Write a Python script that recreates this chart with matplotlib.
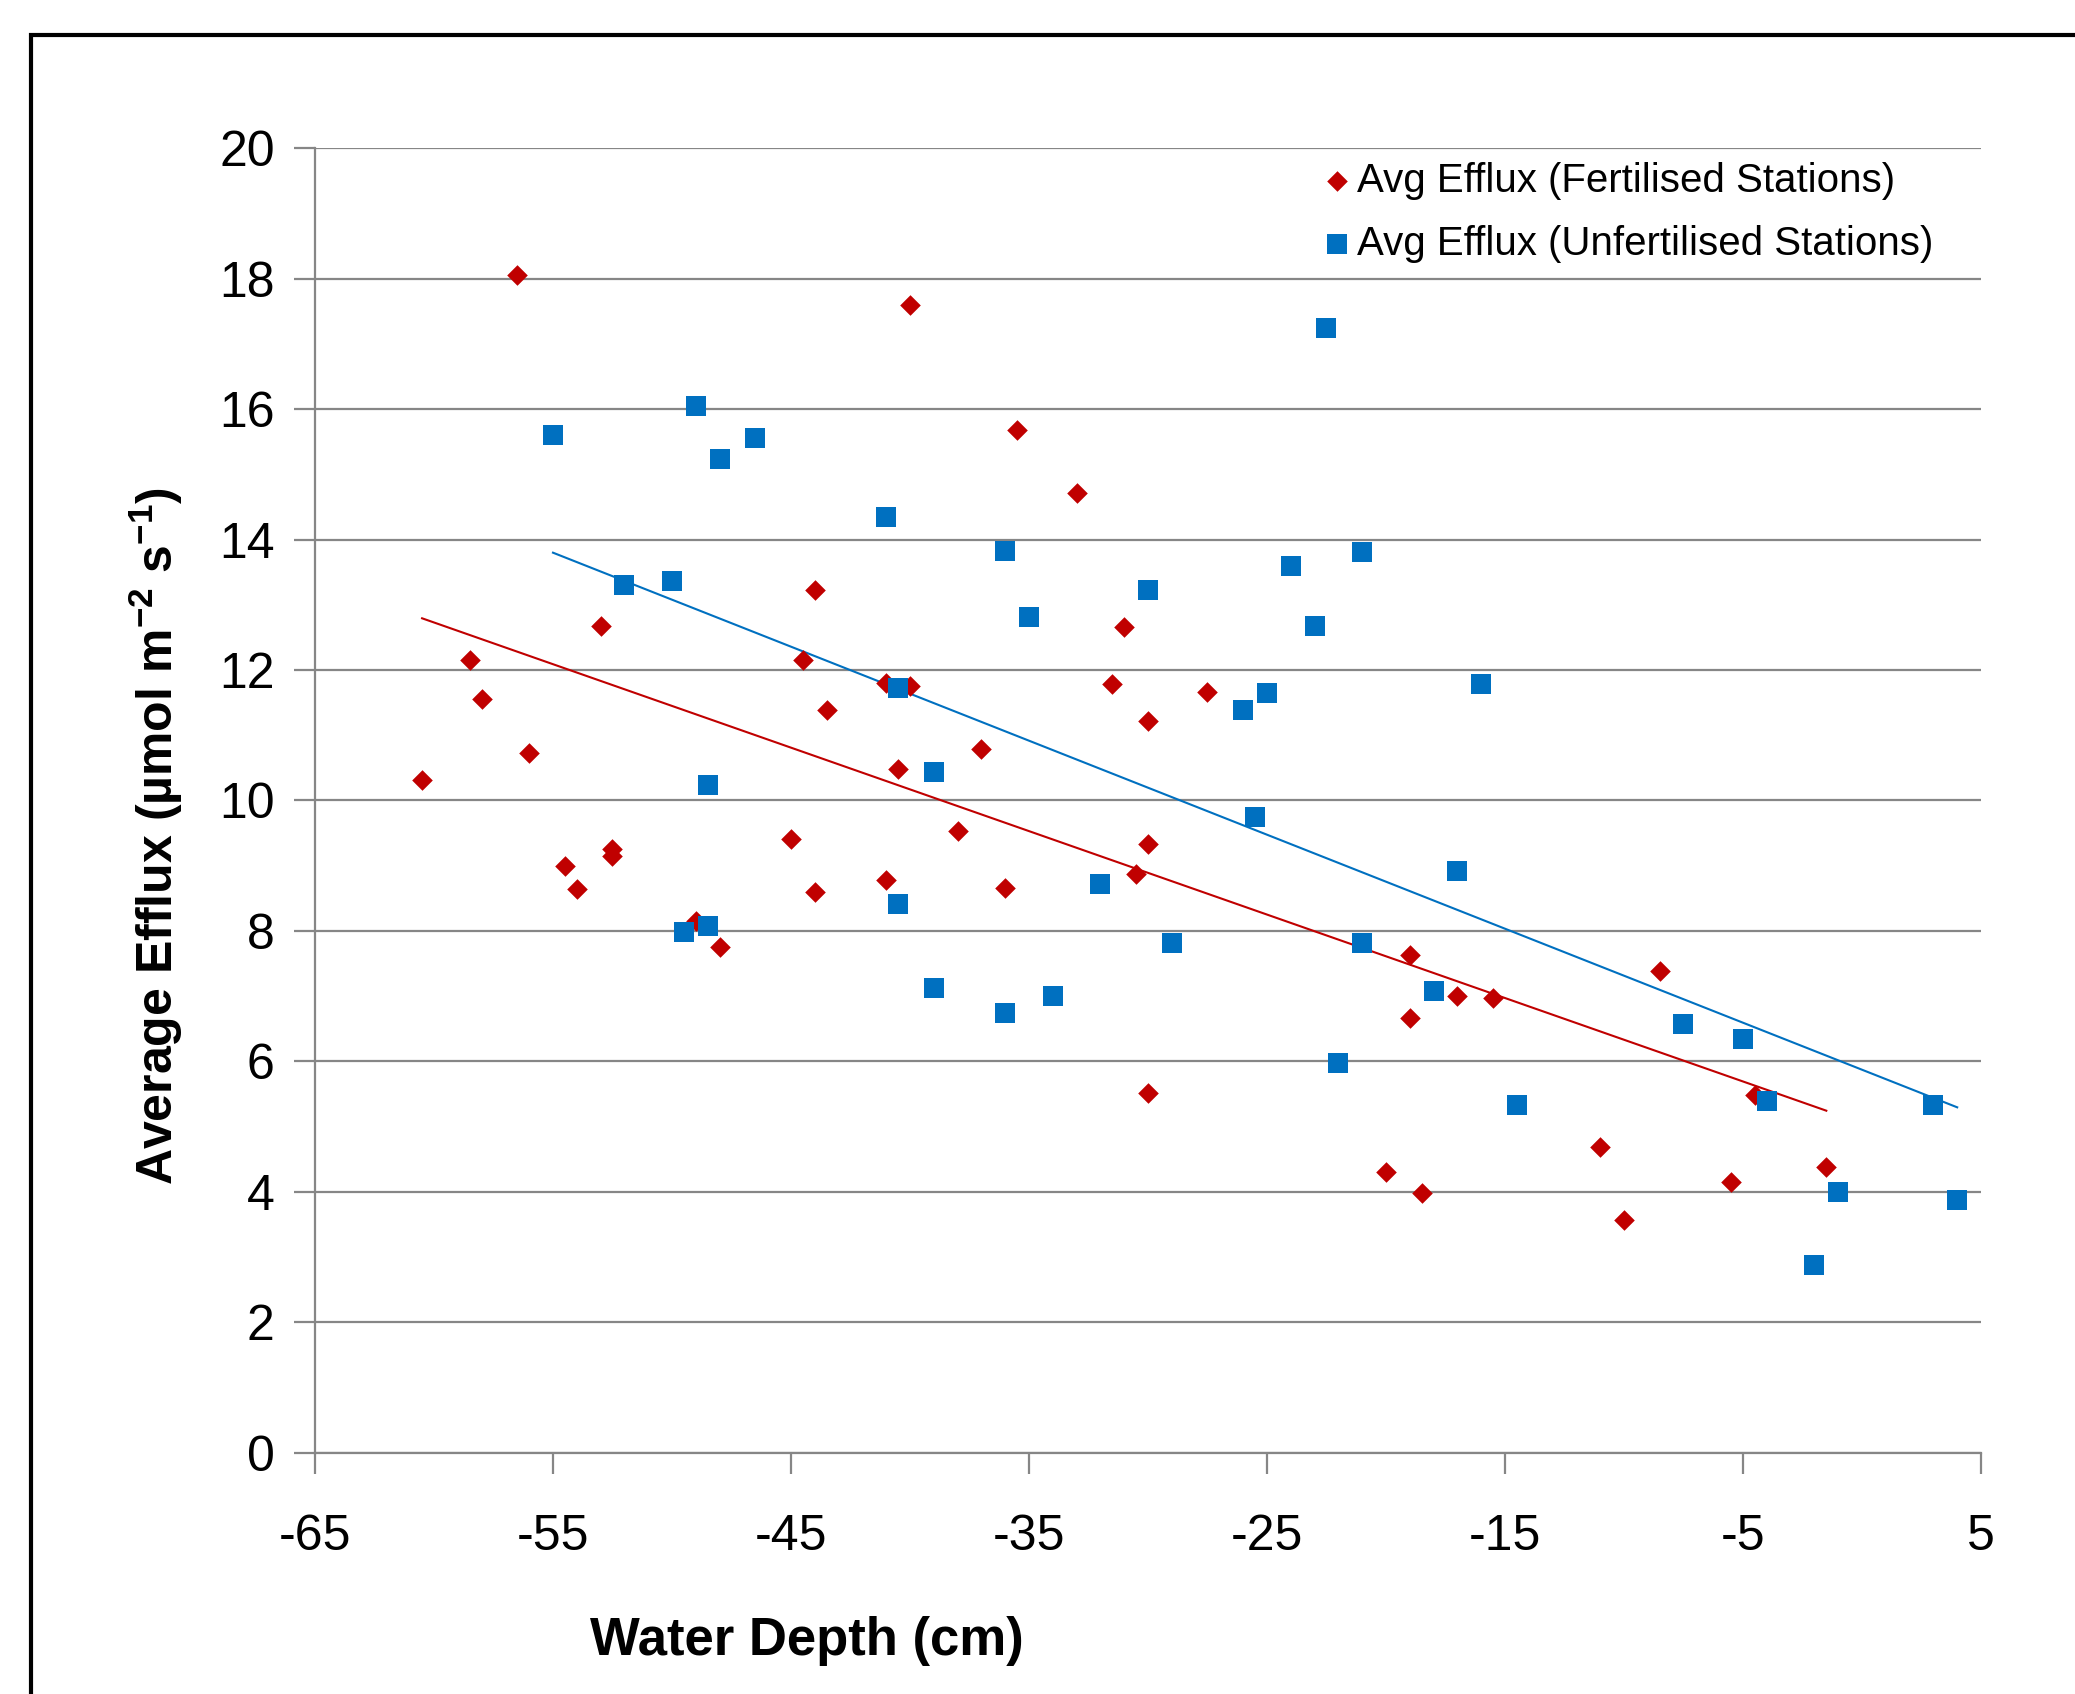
import numpy as np
import matplotlib
matplotlib.use("Agg")
import matplotlib.pyplot as plt
from matplotlib.patches import Rectangle

plt.rcParams['font.family'] = ['Liberation Sans', 'DejaVu Sans']
plt.rcParams['mathtext.default'] = 'regular'
plt.rcParams['axes.unicode_minus'] = False

# Fertilised stations (depth cm, efflux)
fert_depth = [-60.5, -58.5, -58.0, -56.5, -56.0, -54.5, -54.0, -53.0, -52.5, -52.5,
              -49.0, -48.0, -45.0, -44.5, -44.0, -44.0, -43.5, -41.0, -41.0, -40.5,
              -40.0, -40.0, -38.0, -37.0, -36.0, -35.5, -33.0, -31.5, -31.0, -30.5,
              -30.0, -30.0, -30.0, -27.5, -20.0, -19.0, -19.0, -18.5, -17.0, -15.5,
              -11.0, -10.0, -8.5, -5.5, -4.5, -1.5]
fert_efflux = [10.32, 12.15, 11.56, 18.05, 10.73, 9.00, 8.64, 12.68, 9.25, 9.15,
               8.15, 7.75, 9.41, 12.15, 13.22, 8.60, 11.38, 8.78, 11.80, 10.49,
               17.59, 11.76, 9.53, 10.79, 8.66, 15.68, 14.71, 11.78, 12.66, 8.88,
               11.22, 9.33, 5.52, 11.66, 4.30, 7.63, 6.67, 3.98, 7.00, 6.98,
               4.69, 3.57, 7.38, 4.16, 5.48, 4.38]

# Unfertilised stations
unfert_depth = [-55.0, -52.0, -50.0, -49.5, -49.0, -48.5, -48.5, -48.0, -46.5, -41.0,
                -40.5, -40.5, -39.0, -39.0, -36.0, -36.0, -35.0, -34.0, -32.0, -30.0,
                -29.0, -26.0, -25.5, -25.0, -24.0, -23.0, -22.5, -22.0, -21.0, -21.0,
                -18.0, -17.0, -16.0, -14.5, -7.5, -5.0, -4.0, -2.0, -1.0, 3.0, 4.0]
unfert_efflux = [15.60, 13.31, 13.37, 7.99, 16.04, 10.24, 8.07, 15.23, 15.56, 14.34,
                 11.72, 8.42, 10.43, 7.12, 13.83, 6.75, 12.82, 7.00, 8.72, 13.22,
                 7.81, 11.38, 9.74, 11.64, 13.59, 12.68, 17.24, 5.98, 13.81, 7.81,
                 7.08, 8.92, 11.78, 5.33, 6.57, 6.35, 5.40, 2.88, 4.00, 5.33, 3.87]

x_ticks = [-65, -55, -45, -35, -25, -15, -5, 5]
y_ticks = [0, 2, 4, 6, 8, 10, 12, 14, 16, 18, 20]

red = '#C00000'
blue = '#0070C0'
grey = '#868686'

fig = plt.figure(figsize=(20.75, 16.94), dpi=100)
ax = fig.add_axes([0.1518, 0.1423, 0.8029, 0.7703])

# outer chart border (cut off at right and bottom like the original)
fig.add_artist(Rectangle((31 / 2075, -0.05), 1.2, 1 - 35 / 1694 + 0.05,
                         transform=fig.transFigure, fill=False,
                         edgecolor='black', linewidth=3))

ax.scatter(fert_depth, fert_efflux, marker='D', s=110, color=red, zorder=3,
           label='Avg Efflux (Fertilised Stations)', linewidths=0)
ax.scatter(unfert_depth, unfert_efflux, marker='s', s=190, color=blue, zorder=3,
           label='Avg Efflux (Unfertilised Stations)', linewidths=0)

# linear trendlines
for xs, ys, c in [(fert_depth, fert_efflux, red), (unfert_depth, unfert_efflux, blue)]:
    xs = np.array(xs)
    m, b = np.polyfit(xs, ys, 1)
    xx = np.array([xs.min(), xs.max()])
    ax.plot(xx, m * xx + b, color=c, linewidth=1.5, zorder=2)

ax.set_xlim(-65, 5)
ax.set_ylim(0, 20)
ax.set_xticks(x_ticks)
ax.set_yticks(y_ticks)
ax.yaxis.grid(True, color=grey, linewidth=1.6)
ax.set_axisbelow(True)

for s in ['top', 'right']:
    ax.spines[s].set_visible(False)
for s in ['left', 'bottom']:
    ax.spines[s].set_color(grey)
    ax.spines[s].set_linewidth(1.6)

ax.tick_params(axis='both', colors=grey, labelcolor='black', labelsize=36,
               width=1.6, length=15)
ax.tick_params(axis='x', pad=29)
ax.tick_params(axis='y', pad=14)

ax.set_xlabel('Water Depth (cm)', fontsize=38, fontweight='bold', va='center')
ax.xaxis.set_label_coords(0.295, -0.144)
ax.set_ylabel('Average Efflux (µmol m$^{-2}$ s$^{-1}$)', fontsize=36,
              fontweight='bold')
ax.yaxis.set_label_coords(-0.078, 0.473)

leg = ax.legend(loc='upper right', bbox_to_anchor=(0.981, 1.002), frameon=False,
                fontsize=29, handletextpad=-0.1, labelspacing=0.62,
                borderaxespad=0.0, handlelength=1.2)

fig.savefig('out.png', dpi=100, facecolor='white')
